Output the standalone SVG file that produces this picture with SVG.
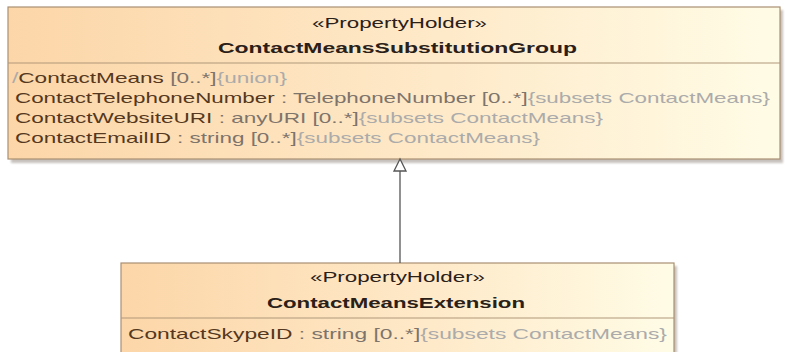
<svg xmlns="http://www.w3.org/2000/svg" width="785" height="352" viewBox="0 0 785 352">
<defs>
<linearGradient id="fillG" x1="0" y1="0" x2="1" y2="0">
<stop offset="0" stop-color="#fcd6a8"/>
<stop offset="0.55" stop-color="#fee9c8"/>
<stop offset="1" stop-color="#fffce6"/>
</linearGradient>
<filter id="blur" x="-5%" y="-5%" width="110%" height="110%"><feGaussianBlur stdDeviation="1.2"/></filter>
</defs>
<style>
.box{fill:url(#fillG);stroke:#a88f72;stroke-width:1.2}
.shadow{fill:#9a9088;opacity:0.55}
.div{stroke:#b0977a;stroke-width:1.2}
text{font-family:"Liberation Sans",Arial,sans-serif;font-size:15px}
.title{fill:#2a2018;text-anchor:start}
.bold{font-weight:bold}
.nm{fill:#553820}
.ty{fill:#7d746c}
.cn{fill:#ababab}
.conn{stroke:#555;stroke-width:1.3;fill:none}
.head{fill:#fff;stroke:#555;stroke-width:1.3}
</style>
<g id="ContactMeansSubstitutionGroup">
<rect class="shadow" x="11" y="10" width="772" height="153" filter="url(#blur)"/>
<rect class="box" x="8" y="7" width="772" height="152"/>
<line class="div" x1="8" y1="63" x2="780" y2="63"/>
<text class="title" x="312" y="28" textLength="175" lengthAdjust="spacingAndGlyphs">«PropertyHolder»</text>
<text class="title bold" x="218" y="53" textLength="359" lengthAdjust="spacingAndGlyphs">ContactMeansSubstitutionGroup</text>
<text x="12" y="83" textLength="275" lengthAdjust="spacingAndGlyphs"><tspan class="cn">/</tspan><tspan class="nm">ContactMeans</tspan><tspan class="ty"> [0..*]</tspan><tspan class="cn">{union}</tspan></text>
<text x="15" y="103" textLength="755" lengthAdjust="spacingAndGlyphs"><tspan class="nm">ContactTelephoneNumber</tspan><tspan class="ty"> : TelephoneNumber [0..*]</tspan><tspan class="cn">{subsets ContactMeans}</tspan></text>
<text x="15" y="123" textLength="588" lengthAdjust="spacingAndGlyphs"><tspan class="nm">ContactWebsiteURI</tspan><tspan class="ty"> : anyURI [0..*]</tspan><tspan class="cn">{subsets ContactMeans}</tspan></text>
<text x="15" y="143" textLength="525" lengthAdjust="spacingAndGlyphs"><tspan class="nm">ContactEmailID</tspan><tspan class="ty"> : string [0..*]</tspan><tspan class="cn">{subsets ContactMeans}</tspan></text>
</g>
<g id="ContactMeansExtension">
<rect class="shadow" x="124" y="266" width="553" height="100" filter="url(#blur)"/>
<rect class="box" x="121" y="263" width="553" height="100"/>
<line class="div" x1="121" y1="318" x2="674" y2="318"/>
<text class="title" x="310" y="282" textLength="175" lengthAdjust="spacingAndGlyphs">«PropertyHolder»</text>
<text class="title bold" x="267" y="308" textLength="258" lengthAdjust="spacingAndGlyphs">ContactMeansExtension</text>
<text x="128" y="339" textLength="539" lengthAdjust="spacingAndGlyphs"><tspan class="nm">ContactSkypeID</tspan><tspan class="ty"> : string [0..*]</tspan><tspan class="cn">{subsets ContactMeans}</tspan></text>
</g>
<g id="connectors">
<line class="conn" x1="400" y1="263" x2="400" y2="171"/>
<polygon class="head" points="400,159 394,171 406,171"/>
</g>
</svg>
